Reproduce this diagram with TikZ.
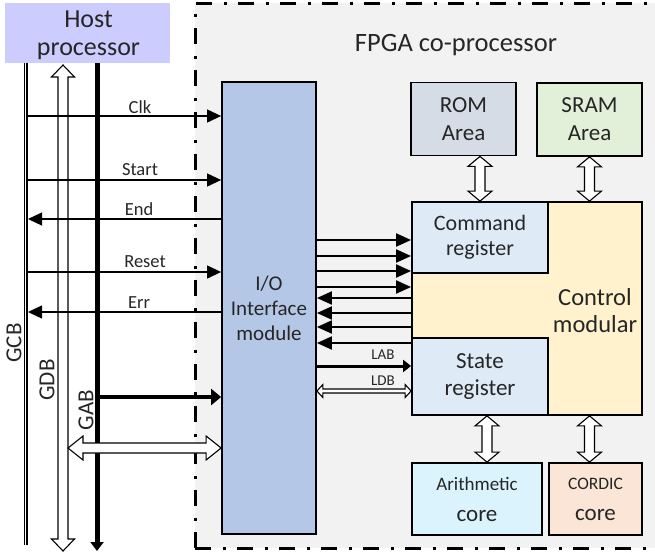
\documentclass[tikz,border=0pt]{standalone}
\usepackage{fontspec}
\setmainfont{Carlito}
\usetikzlibrary{arrows.meta,calc}

\definecolor{hostfill}{HTML}{CCCCFF}
\definecolor{fpgafill}{HTML}{F2F2F2}
\definecolor{iofill}{HTML}{B4C7E7}
\definecolor{romfill}{HTML}{D6DCE5}
\definecolor{sramfill}{HTML}{E2F0D9}
\definecolor{regfill}{HTML}{DEEBF7}
\definecolor{ctrlfill}{HTML}{FFF2CC}
\definecolor{arithfill}{HTML}{DAF3FD}
\definecolor{cordicfill}{HTML}{FBE5D6}
\definecolor{txt}{HTML}{262626}

% vertical hollow double arrow: top point, bottom point, shaft half, head half, head length
\newcommand\vhollow[5]{\path[hollow] let \p1=(#1), \p2=(#2) in
  (\x1,\y1) -- (\x1+#4,\y1-#5) -- (\x1+#3,\y1-#5) -- (\x1+#3,\y2+#5) -- (\x1+#4,\y2+#5)
  -- (\x1,\y2) -- (\x1-#4,\y2+#5) -- (\x1-#3,\y2+#5) -- (\x1-#3,\y1-#5) -- (\x1-#4,\y1-#5) -- cycle;}
% horizontal hollow double arrow: left point, right point, shaft half, head half, head length
\newcommand\hhollow[5]{\path[hollow] let \p1=(#1), \p2=(#2) in
  (\x1,\y1) -- (\x1+#5,\y1+#4) -- (\x1+#5,\y1+#3) -- (\x2-#5,\y1+#3) -- (\x2-#5,\y1+#4)
  -- (\x2,\y1) -- (\x2-#5,\y1-#4) -- (\x2-#5,\y1-#3) -- (\x1+#5,\y1-#3) -- (\x1+#5,\y1-#4) -- cycle;}

\begin{document}
\begin{tikzpicture}[x=1pt,y=-1pt,
  box/.style={draw, line width=1.8pt, inner sep=0pt, align=center, text=txt,
    font=\fontsize{23}{28}\selectfont},
  hollow/.style={draw, fill=white, line width=1.1pt, line join=miter},
  sig/.style={line width=1.2pt, -{Triangle[length=14pt,width=13pt]}},
  wire/.style={line width=2pt, -{Triangle[length=15pt,width=13pt]}},
  siglabel/.style={anchor=base, text=txt, font=\fontsize{18.5}{20}\selectfont},
  buslabel/.style={rotate=90, text=txt, font=\fontsize{23}{26}\selectfont},
  small/.style={text=txt, font=\fontsize{15}{17}\selectfont}]

\clip (0,0) rectangle (655,555);

% FPGA co-processor region
\path[fill=fpgafill] (195,3) rectangle (700,548);
\draw[line width=3pt, dash pattern=on 16pt off 11.5pt on 3pt off 11.5pt]
  (195,548) -- (195,3) -- (700,3) (195,548) -- (700,548);
\node[text=txt, font=\fontsize{26.5}{30}\selectfont] (fpgatitle) at (456,45) {FPGA co-processor};

% host
\node[fill=hostfill, minimum width=165pt, minimum height=60pt, inner sep=0pt] (host) at (87.5,32.5) {};
\node[align=center, text=txt, font=\fontsize{26}{28}\selectfont] (hosttext)
  at ($(host.center)+(1,2.5)$) {Host\\processor};

% modules
\node[box, fill=iofill, minimum width=94pt, minimum height=452pt,
  font=\fontsize{21}{25}\selectfont] (io) at (269,308) {I/O\\Interface\\module};
\node[box, fill=romfill, minimum width=105pt, minimum height=73pt] (rom) at (463.5,119) {ROM\\Area};
\node[box, fill=sramfill, minimum width=105pt, minimum height=73pt] (sram) at (589.5,119.5) {SRAM\\Area};
\node[box, fill=ctrlfill, minimum width=230pt, minimum height=213pt] (ctrl) at (527,308.5) {};
\node[text=txt, align=center, font=\fontsize{24.5}{27}\selectfont] (ctrltext) at (595,311) {Control\\modular};
\node[box, fill=regfill, minimum width=136pt, minimum height=71pt, font=\fontsize{22}{25}\selectfont]
  (cmd) at (480,237.5) {Command\\register};
\node[box, fill=regfill, minimum width=136pt, minimum height=77pt, font=\fontsize{23}{27}\selectfont]
  (state) at (480,376.5) {State\\register};
\node[box, fill=arithfill, minimum width=130pt, minimum height=72pt] (arith) at (477,499)
  {{\fontsize{19}{21}\selectfont Arithmetic}\\[3pt]core};
\node[box, fill=cordicfill, minimum width=93pt, minimum height=72pt] (cordic) at (595.5,499)
  {{\fontsize{17.5}{20}\selectfont CORDIC}\\[3pt]core};

% system buses
\coordinate (gcbT) at (25.5,63);
\coordinate (gcbB) at (25.5,545);
\coordinate (gdbT) at (63,65);
\coordinate (gdbB) at (63,551);
\coordinate (gabT) at (97,63);
\coordinate (gabB) at (97,551);
\draw[line width=1.2pt, double, double distance=1.6pt] (gcbT) -- (gcbB);
\vhollow{gdbT}{gdbB}{5pt}{11.5pt}{12pt}
\draw[line width=5pt, -{Triangle[length=9pt,width=13pt]}] (gabT) -- (gabB);
\node[buslabel] (gcblabel) at (14,343) {GCB};
\node[buslabel] (gdblabel) at (47,380) {GDB};
\node[buslabel] (gablabel) at (86,410) {GAB};

% control signals
\coordinate (sClk) at (28,116);
\coordinate (sStart) at (28,180);
\coordinate (sEnd) at (28,219);
\coordinate (sReset) at (28,272);
\coordinate (sErr) at (28,312);
\draw[sig] (sClk) -- (sClk -| io.west);
\draw[sig] (sStart) -- (sStart -| io.west);
\draw[sig] (sEnd -| io.west) -- (sEnd);
\draw[sig] (sReset) -- (sReset -| io.west);
\draw[sig] (sErr -| io.west) -- (sErr);
\node[siglabel] (lClk) at (140,113) {Clk};
\node[siglabel] (lStart) at (140,175) {Start};
\node[siglabel] (lEnd) at (139,215) {End};
\node[siglabel] (lReset) at (145,267) {Reset};
\node[siglabel] (lErr) at (139,308) {Err};

% address and data paths into the I/O module
\coordinate (gabTap) at (97,397);
\draw[line width=4.5pt, -{Triangle[length=10pt,width=16pt]}] (gabTap) -- (gabTap -| io.west);
\coordinate (gdbTap) at (68,448);
\hhollow{gdbTap}{gdbTap -| io.west}{5pt}{12pt}{15pt}

% local lines between I/O module and control
\foreach \r in {240,256,271,287} {
  \coordinate (row) at (0,\r);
  \draw[wire] (row -| io.east) -- (row -| ctrl.west);
}
\foreach \r in {298,313,327,343} {
  \coordinate (row) at (0,\r);
  \draw[wire] (row -| ctrl.west) -- (row -| io.east);
}
\coordinate (lab) at (0,366);
\draw[line width=3pt, -{Triangle[length=8pt,width=12pt]}] (lab -| io.east) -- (lab -| state.west);
\node[small] (lablabel) at (383,355) {LAB};
\coordinate (ldb) at (0,391);
\hhollow{ldb -| io.east}{ldb -| state.west}{2pt}{6.5pt}{6pt}
\node[small] (ldblabel) at (383,381) {LDB};

% memory and core links
\vhollow{rom.south -| cmd.north}{cmd.north}{5pt}{12pt}{10pt}
\vhollow{sram.south}{sram.south |- ctrl.north}{5pt}{12pt}{10pt}
\coordinate (stTap) at ($(state.south)+(7,0)$);
\vhollow{stTap}{stTap |- arith.north}{5pt}{12pt}{10pt}
\vhollow{ctrl.south -| sram.south}{cordic.north -| sram.south}{5pt}{12pt}{10pt}

\end{tikzpicture}
\end{document}
